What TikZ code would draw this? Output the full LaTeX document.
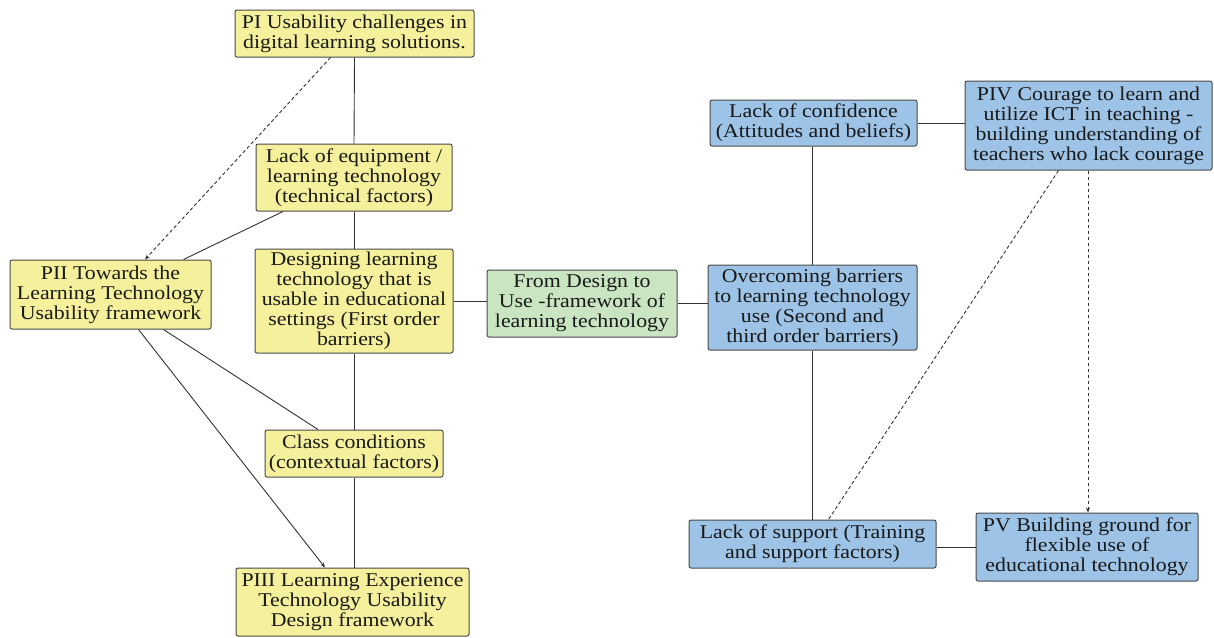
\documentclass[tikz,border=0pt]{standalone}
\usepackage{fontspec}
\setmainfont{Liberation Serif}[FakeStretch=1.12]
\usetikzlibrary{arrows.meta}
\definecolor{boxedge}{HTML}{4A4A4A}
\definecolor{linkgray}{HTML}{333333}
\definecolor{yfill}{HTML}{F4F09B}
\definecolor{bfill}{HTML}{9DC3E6}
\definecolor{gfill}{HTML}{C9E5C1}
\begin{document}
\begin{tikzpicture}[x=1pt,y=-1pt,
  box/.style={draw=boxedge, line width=1pt, rounded corners=2pt, align=center,
    inner sep=1pt, text=black!90, font=\fontsize{19.5}{20}\selectfont},
  ybox/.style={box, fill=yfill},
  bbox/.style={box, fill=bfill},
  gbox/.style={box, fill=gfill},
  link/.style={draw=linkgray, line width=0.9pt},
  dlink/.style={link, dash pattern=on 3.5pt off 2.5pt},
  tip/.style={-{Stealth[length=5pt,width=4pt]}}]
\useasboundingbox[fill=white] (0,0) rectangle (1214,637);

% left cluster
\node[ybox, minimum width=239, minimum height=47] (p1) at (354.5,33.5)
  {PI Usability challenges in\\digital learning solutions.};
\node[ybox, minimum width=196, minimum height=67] (eq) at (354,177.5)
  {Lack of equipment /\\learning technology\\(technical factors)};
\node[ybox, minimum width=198, minimum height=104] (ds) at (354,301)
  {Designing learning\\technology that is\\usable in educational\\settings (First order\\barriers)};
\node[ybox, minimum width=201, minimum height=69] (p2) at (110.5,294.5)
  {PII Towards the\\Learning Technology\\Usability framework};
\node[ybox, minimum width=178, minimum height=47] (cl) at (354,453.5)
  {Class conditions\\(contextual factors)};
\node[ybox, minimum width=233, minimum height=68] (p3) at (352.5,602)
  {PIII Learning Experience\\Technology Usability\\Design framework};

% centre
\node[gbox, minimum width=190, minimum height=67] (fw) at (582,303.5)
  {From Design to\\Use -framework of\\learning technology};

% right cluster
\node[bbox, minimum width=209, minimum height=85] (ob) at (812.5,307.5)
  {Overcoming barriers\\to learning technology\\use (Second and\\third order barriers)};
\node[bbox, minimum width=207, minimum height=46] (lc) at (813.5,123)
  {Lack of confidence\\(Attitudes and beliefs)};
\node[bbox, minimum width=247, minimum height=89] (p4) at (1088.5,125.5)
  {PIV Courage to learn and\\utilize ICT in teaching -\\building understanding of\\teachers who lack courage};
\node[bbox, minimum width=247, minimum height=48] (ls) at (812.5,544)
  {Lack of support (Training\\and support factors)};
\node[bbox, minimum width=222, minimum height=68] (p5) at (1087,547)
  {PV Building ground for\\flexible use of\\educational technology};

% connectors, left
\draw[link] (p1.south) -- (eq.north);
\draw[link] (eq.south) -- (ds.north);
\draw[link] ([xshift=-71]eq.south) -- ([xshift=73]p2.north);
\draw[dlink, tip] ([xshift=-24]p1.south) -- ([xshift=34.5]p2.north);
\draw[link] (ds.east) -- (ds.east -| fw.west);
\draw[link] (ds.south) -- (cl.north);
\draw[link] ([xshift=53]p2.south) -- ([xshift=-36]cl.north);
\draw[link, tip] ([xshift=28]p2.south) -- ([xshift=-27.5]p3.north);
\draw[link] (cl.south) -- (cl.south |- p3.north);

% connectors, right
\draw[link] (fw.east) -- (fw.east -| ob.west);
\draw[link] (lc.south -| ob.north) -- (ob.north);
\draw[link] (lc.east) -- (lc.east -| p4.west);
\draw[link] (ob.south) -- (ls.north);
\draw[dlink] ([xshift=-30]p4.south) -- ([xshift=16]ls.north);
\draw[dlink, tip] ([xshift=-0.5]p4.south) -- ([xshift=-0.5]p4.south |- p5.north);
\draw[link] (ls.east |- p5.west) -- (p5.west);
\end{tikzpicture}
\end{document}
